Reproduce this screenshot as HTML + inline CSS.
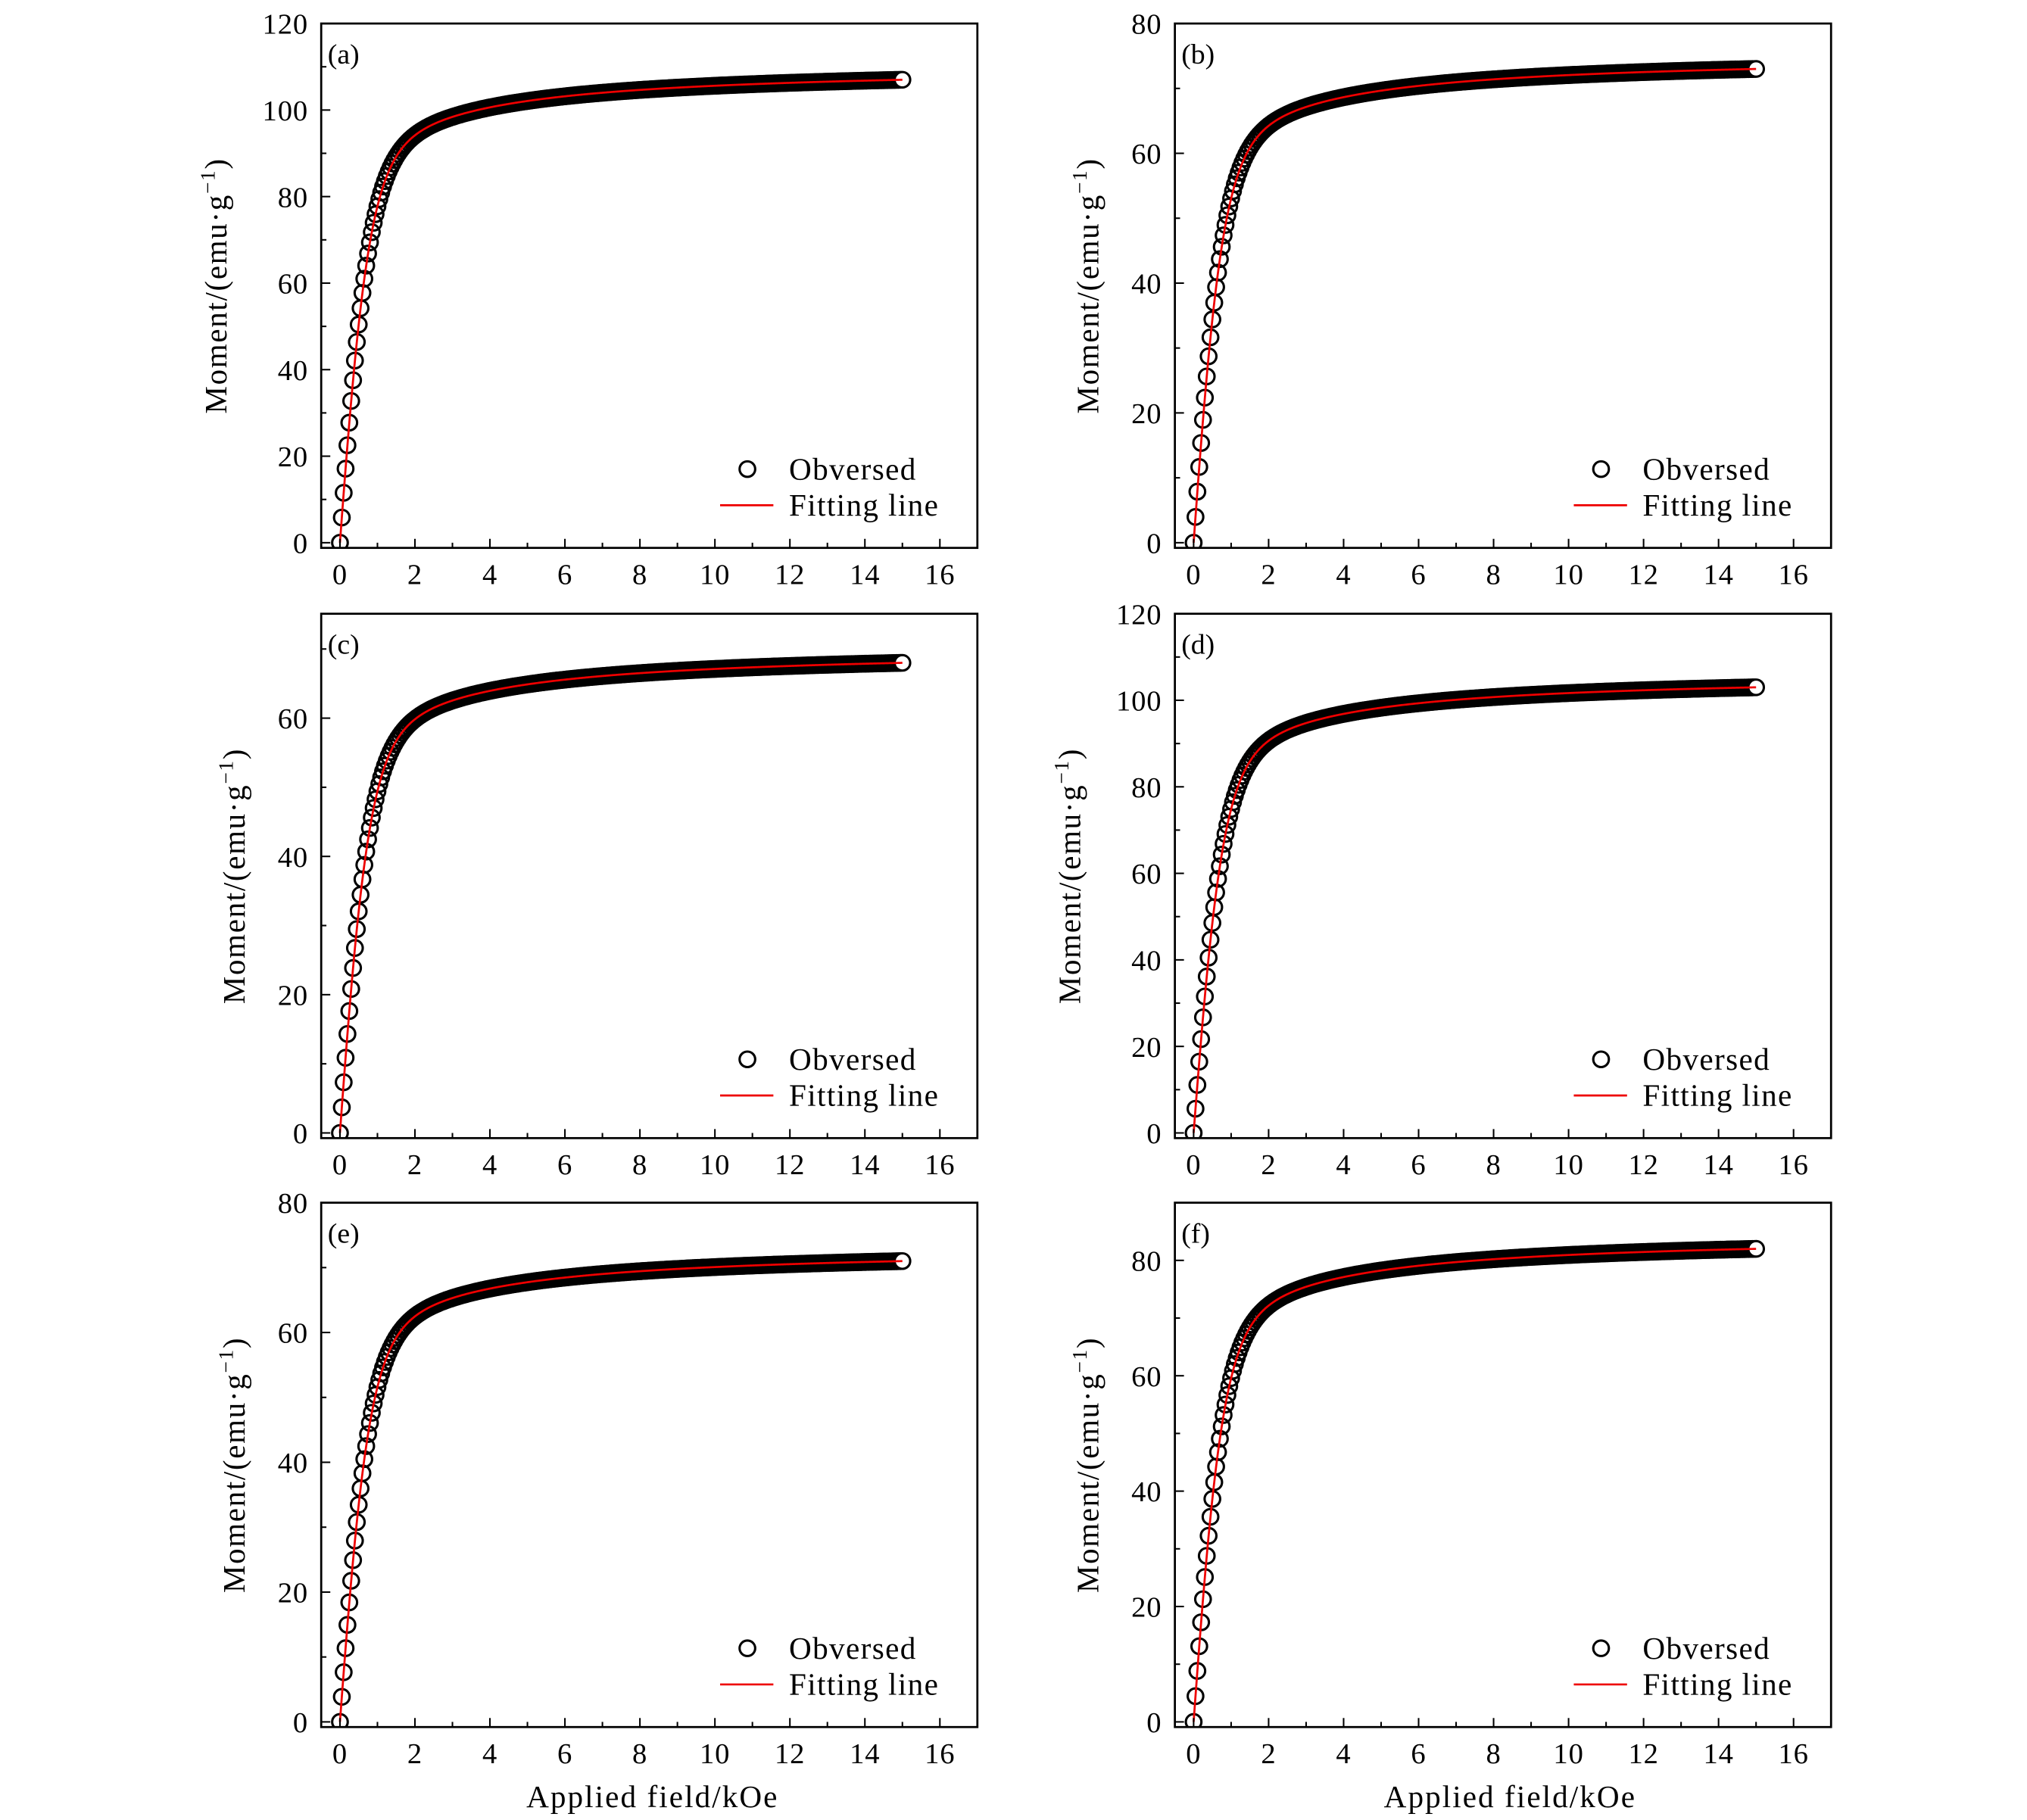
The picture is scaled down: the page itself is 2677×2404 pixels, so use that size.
<!DOCTYPE html>
<html><head><meta charset="utf-8">
<style>html,body{margin:0;padding:0;background:#fff}svg{display:block}
text{font-family:"Liberation Serif",serif;fill:#000}</style></head>
<body>
<svg width="2677" height="2404" viewBox="0 0 1560 1401" preserveAspectRatio="none" xmlns="http://www.w3.org/2000/svg"><g id="s" transform="translate(-5.8,1.2) scale(1,0.9942)"></g></svg>
<script>
const S=document.getElementById('s');
let out='';
const panels=[
 {l:'(a)',x0:253,y0:17,ymax:120,yt:20,fin:107,lab:-73},
 {l:'(b)',x0:910,y0:17,ymax:80,yt:20,fin:73,lab:-59},
 {l:'(c)',x0:253,y0:474,ymax:75.1,yt:20,fin:68,lab:-59},
 {l:'(d)',x0:910,y0:474,ymax:120,yt:20,fin:103,lab:-73},
 {l:'(e)',x0:253,y0:930,ymax:80,yt:20,fin:71,lab:-59},
 {l:'(f)',x0:910,y0:930,ymax:90,yt:20,fin:82,lab:-59}
];
const W=505,H=406,xmin=-0.5,xmax=17.0;
function f(h){return 75*Math.tanh(h/0.8)+35*h/(h+1.5);}
const f15=f(15);
panels.forEach(p=>{
 const bot=p.y0+H, y0pix=bot-4;
 const sy=(y0pix-p.y0)/p.ymax;
 const X=v=>p.x0+(v-xmin)/(xmax-xmin)*W;
 const Y=v=>y0pix-v*sy;
 out+=`<clipPath id="c${p.l[1]}"><rect x="${p.x0}" y="${p.y0}" width="${W}" height="${H}"/></clipPath>`;
 let g=`<g clip-path="url(#c${p.l[1]})">`;
 const k=p.fin/f15;
 let pts=[];
 for(let h=0;h<=15.0001;h+=0.05)pts.push(h);
 pts.forEach((h,i)=>{const last=i==pts.length-1;
  g+=`<circle cx="${X(h).toFixed(2)}" cy="${Y(k*f(h)).toFixed(2)}" r="6" fill="${last?'#fff':'none'}" stroke="#000" stroke-width="1.8"/>`;});
 let d='';
 for(let h=0;h<=15.0001;h+=0.02)d+=(d?'L':'M')+X(h).toFixed(2)+','+Y(k*f(h)).toFixed(2);
 g+=`<path d="${d}" fill="none" stroke="#e00" stroke-width="1.6"/></g>`;
 out+=g;
 out+=`<rect x="${p.x0}" y="${p.y0}" width="${W}" height="${H}" fill="none" stroke="#000" stroke-width="1.6"/>`;
 for(let v=0;v<=17;v++){const x=X(v);const maj=v%2==0;
  out+=`<line x1="${x}" y1="${bot}" x2="${x}" y2="${bot-(maj?7:4)}" stroke="#000" stroke-width="1.2"/>`;
  if(maj&&v<=16)out+=`<text x="${x}" y="${bot+28}" font-size="22.5" text-anchor="middle" letter-spacing="0.5">${v}</text>`;}
 for(let v=0;v<=p.ymax+0.01;v+=p.yt/2){const y=Y(v);const maj=Math.abs(v/p.yt-Math.round(v/p.yt))<0.01;
  out+=`<line x1="${p.x0}" y1="${y}" x2="${p.x0+(maj?7:4)}" y2="${y}" stroke="#000" stroke-width="1.2"/>`;
  if(maj)out+=`<text x="${p.x0-10}" y="${y+8}" font-size="22.5" text-anchor="end" letter-spacing="0.5">${Math.round(v)}</text>`;}
 out+=`<text x="${p.x0+5}" y="${p.y0+31}" font-size="22">${p.l}</text>`;
 const cy=p.y0+H/2, cx=p.x0+p.lab;
 out+=`<text transform="translate(${cx},${cy}) rotate(-90)" font-size="24" text-anchor="middle" letter-spacing="1">Moment/(emu·g<tspan dy="-9" font-size="16">−1</tspan><tspan dy="9">)</tspan></text>`;
 out+=`<circle cx="${p.x0+328}" cy="${bot-61}" r="6" fill="none" stroke="#000" stroke-width="1.8"/>`;
 out+=`<text x="${p.x0+360}" y="${bot-53}" font-size="24" letter-spacing="0.8">Obversed</text>`;
 out+=`<line x1="${p.x0+307}" y1="${bot-33}" x2="${p.x0+348}" y2="${bot-33}" stroke="#e00" stroke-width="1.6"/>`;
 out+=`<text x="${p.x0+360}" y="${bot-25}" font-size="24" letter-spacing="0.8">Fitting line</text>`;
});
out+=`<text x="508" y="1398" font-size="24" text-anchor="middle" letter-spacing="1.2">Applied field/kOe</text>`;
out+=`<text x="1168" y="1398" font-size="24" text-anchor="middle" letter-spacing="1.2">Applied field/kOe</text>`;
S.innerHTML=out;
</script>
</body></html>
